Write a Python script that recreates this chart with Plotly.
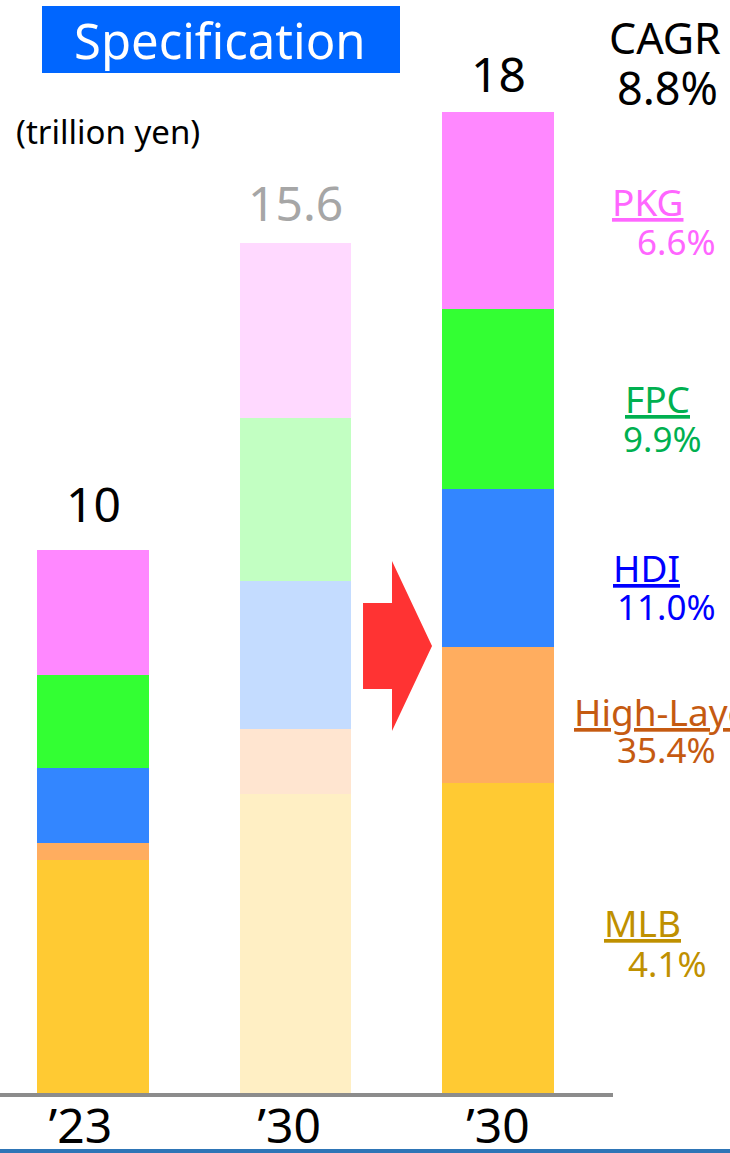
import plotly.graph_objects as go

# values in trillion yen
categories = ["’23\u00a0\u00a0", "’30\u00a0", "’30"]
mlb = [4.29, 5.50, 5.71]
high_layer = [0.31, 1.19, 2.50]
hdi = [1.39, 2.72, 2.90]
fpc = [1.69, 2.99, 3.30]
pkg = [2.31, 3.21, 3.60]
totals = ["10", "15.6", "18"]
segment_names = ["MLB", "High-Layer", "HDI", "FPC", "PKG"]
segment_cagr = ["4.1%", "35.4%", "11.0%", "9.9%", "6.6%"]
total_cagr = "8.8%"

W, H = 730, 1153
PLOT_H = 1094  # baseline in pixels from top
FONT = "Noto Sans, Open Sans, sans-serif"


def px(x):
    return x / W


def py(y):
    return (PLOT_H - y) / PLOT_H


solid = ["#FFCA33", "#FFAD5F", "#3386FF", "#33FF33", "#FF88FF"]
faded = ["#FFEFC4", "#FFE5D0", "#C4DCFF", "#C2FFC2", "#FFD9FF"]
label_colors = ["#BF9000", "#C55A11", "#0000FF", "#00B050", "#FF66FF"]

series = [mlb, high_layer, hdi, fpc, pkg]
x = [0, 1, 2]

fig = go.Figure()
for i, vals in enumerate(series):
    fig.add_trace(go.Bar(
        x=x, y=vals, width=0.553, name=segment_names[i],
        marker=dict(color=[solid[i], faded[i], solid[i]], line=dict(width=0)),
        hoverinfo="skip",
    ))

annotations = []
sums = [sum(s[j] for s in series) for j in range(3)]
total_shift = [46, 41, 39]
for j in range(3):
    annotations.append(dict(
        x=x[j], y=sums[j], xref="x", yref="y", text=totals[j], showarrow=False,
        yanchor="middle", yshift=total_shift[j],
        font=dict(family=FONT, size=48, color="#A6A6A6" if j == 1 else "black"),
    ))

# segment labels on the right
name_pos = [(642, 922, "center"), (572, 711, "left"), (646, 567, "center"),
            (657, 398, "center"), (647, 201, "center")]
pct_pos = [(709, 963, "right"), (718, 749, "right"), (718, 606, "right"),
           (704, 438, "right"), (718, 241, "right")]
for i in range(5):
    nx, ny, na = name_pos[i]
    annotations.append(dict(
        x=px(nx), y=py(ny), xref="paper", yref="paper", showarrow=False,
        text=f"<u>{segment_names[i]}</u>", xanchor=na, yanchor="middle",
        font=dict(family=FONT, size=37, color=label_colors[i]),
    ))
    qx, qy, qa = pct_pos[i]
    annotations.append(dict(
        x=px(qx), y=py(qy), xref="paper", yref="paper", showarrow=False,
        text=segment_cagr[i], xanchor=qa, yanchor="middle",
        font=dict(family=FONT, size=35, color=label_colors[i]),
    ))

annotations += [
    dict(x=px(665), y=py(37), xref="paper", yref="paper", showarrow=False,
         text="CAGR", xanchor="center", yanchor="middle",
         font=dict(family=FONT, size=43, color="black")),
    dict(x=px(667), y=py(87), xref="paper", yref="paper", showarrow=False,
         text=total_cagr, xanchor="center", yanchor="middle",
         font=dict(family=FONT, size=45, color="black")),
    dict(x=px(14), y=py(132), xref="paper", yref="paper", showarrow=False,
         text="(trillion yen)", xanchor="left", yanchor="middle",
         font=dict(family=FONT, size=33, color="black")),
    dict(x=px(220), y=py(40), xref="paper", yref="paper", showarrow=False,
         text="Specification", xanchor="center", yanchor="middle",
         font=dict(family=FONT, size=49, color="white")),
]

pts = [(363, 603), (392, 603), (392, 561), (432, 646), (392, 731), (392, 689), (363, 689)]
arrow_path = "M " + " L ".join(f"{px(a):.4f},{py(b):.4f}" for a, b in pts) + " Z"

shapes = [
    dict(type="rect", xref="paper", yref="paper", x0=px(42), x1=px(400),
         y0=py(73), y1=py(6), fillcolor="#0066FF", line=dict(width=0), layer="below"),
    dict(type="path", xref="paper", yref="paper", path=arrow_path,
         fillcolor="#FF3333", line=dict(width=0)),
    dict(type="line", xref="paper", yref="paper", x0=0, x1=px(613),
         y0=py(1095), y1=py(1095), line=dict(color="#8C8C8C", width=4)),
    dict(type="line", xref="paper", yref="paper", x0=0, x1=1,
         y0=py(1151), y1=py(1151), line=dict(color="#2E75B6", width=4)),
]

fig.update_layout(
    width=W, height=H, barmode="stack", showlegend=False,
    margin=dict(l=0, r=0, t=0, b=H - PLOT_H),
    paper_bgcolor="white", plot_bgcolor="white",
    xaxis=dict(range=[-93 / 202.5, (W - 93) / 202.5], tickvals=x, ticktext=categories,
               showgrid=False, zeroline=False, showline=False, ticks="",
               automargin=False,
               tickfont=dict(family=FONT, size=48, color="black")),
    yaxis=dict(range=[0, PLOT_H / 54.5], visible=False, automargin=False),
    annotations=annotations, shapes=shapes,
)

# pin the graph to the top-left corner of the page
page_js = (
    "document.body.style.margin='0';"
    "var d=document.getElementById('{plot_id}');"
    "d.style.position='fixed';d.style.left='0';d.style.top='0';"
)
fig.write_html("out.html", config={"displayModeBar": False}, post_script=page_js)
